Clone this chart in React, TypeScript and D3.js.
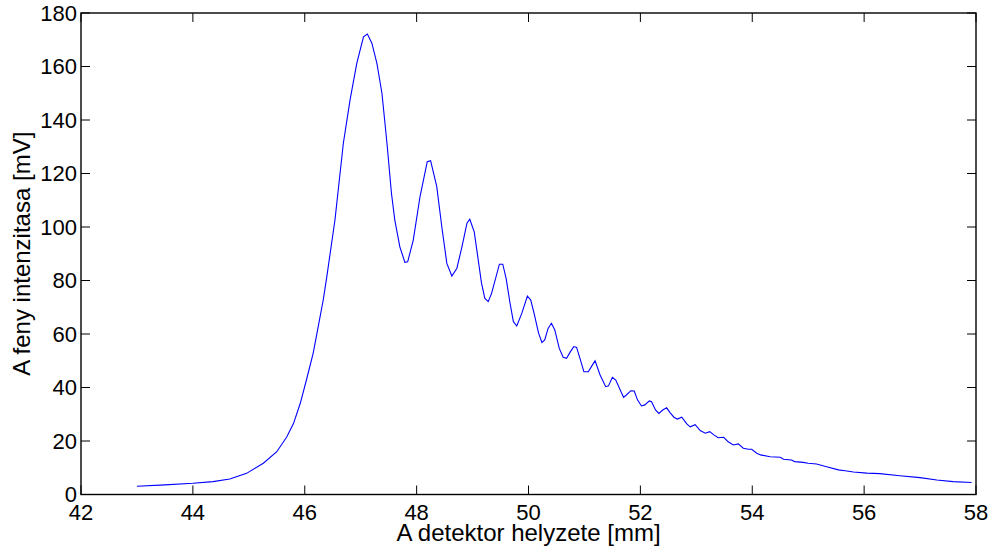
import React from "react";
import * as d3 from "d3";

const xPos: number[] = [
  43.0, 43.5, 44.0, 44.36, 44.66, 44.96, 45.26, 45.5, 45.68, 45.8, 45.92, 46.03, 46.15, 46.24, 46.33,
  46.39, 46.54, 46.69, 46.81, 46.93, 47.05, 47.12, 47.2, 47.29, 47.38, 47.47, 47.55, 47.61, 47.7,
  47.79, 47.84, 47.94, 48.06, 48.19, 48.25, 48.36, 48.45, 48.54, 48.63, 48.72, 48.81, 48.9, 48.95,
  49.03, 49.16, 49.22, 49.28, 49.34, 49.48, 49.54, 49.6, 49.67, 49.73, 49.79, 49.88, 49.98, 50.04,
  50.1, 50.18, 50.24, 50.29, 50.35, 50.41, 50.47, 50.55, 50.62, 50.68, 50.75, 50.81, 50.86, 50.92,
  50.99, 51.07, 51.13, 51.19, 51.28, 51.38, 51.43, 51.5, 51.56, 51.64, 51.7, 51.75, 51.83, 51.89,
  51.95, 52.02, 52.08, 52.16, 52.2, 52.27, 52.33, 52.4, 52.47, 52.53, 52.6, 52.66, 52.74, 52.83,
  52.89, 52.98, 53.07, 53.16, 53.24, 53.32, 53.39, 53.49, 53.57, 53.66, 53.75, 53.84, 53.93, 53.99,
  54.08, 54.15, 54.32, 54.5, 54.56, 54.7, 54.76, 54.91, 55.0, 55.15, 55.33, 55.54, 55.66, 55.81,
  56.05, 56.28, 56.64, 57.0, 57.3, 57.59, 57.92,
];

const intensity: number[] = [
  3.1, 3.6, 4.2, 4.8, 5.8, 7.9, 11.7, 16.0, 21.6, 26.6, 34.1, 42.8, 52.8, 62.7, 72.7,
  80.8, 102.6, 131.3, 147.5, 161.2, 171.1, 172.1, 168.7, 161.2, 150.0, 131.3, 112.6, 102.6, 92.6,
  86.8, 87.0, 95.1, 111.3, 124.4, 124.8, 115.1, 100.1, 86.4, 81.7, 84.6, 92.6, 101.4, 102.9,
  98.2, 79.0, 73.3, 72.1, 75.2, 86.1, 86.1, 80.8, 71.5, 64.6, 63.0, 67.7, 74.2, 72.7,
  67.7, 60.3, 56.8, 57.8, 62.1, 64.0, 61.5, 54.6, 51.3, 50.9, 53.4, 55.3, 55.0, 50.9,
  45.9, 45.9, 48.0, 50.0, 44.7, 40.3, 40.6, 43.8, 42.8, 39.1, 36.3, 37.2, 38.8, 38.7,
  35.3, 33.1, 33.5, 35.0, 34.7, 31.6, 30.3, 31.6, 32.4, 30.6, 28.9, 28.2, 28.9, 26.4,
  25.3, 26.1, 23.9, 22.9, 23.5, 22.2, 21.2, 21.4, 19.7, 18.5, 18.9, 17.3, 16.9, 16.9,
  15.4, 14.8, 14.1, 13.9, 13.2, 12.9, 12.3, 12.0, 11.7, 11.4, 10.4, 9.2, 8.9, 8.4,
  8.0, 7.8, 7.0, 6.3, 5.4, 4.8, 4.5,
];

const xTicks: number[] = [42, 44, 46, 48, 50, 52, 54, 56, 58];
const yTicks: number[] = [0, 20, 40, 60, 80, 100, 120, 140, 160, 180];
const xLabel = "A detektor helyzete [mm]";
const yLabel = "A feny intenzitasa [mV]";

const W = 995;
const H = 548;
const left = 81;
const right = 976;
const top = 13;
const bottom = 494.5;
const font = "'Liberation Sans', Arial, Helvetica, sans-serif";
const fs = 22;
const labelFs = 24;
const tickLen = 9;

export default function App() {
  const x = d3.scaleLinear().domain([42, 58]).range([left, right]);
  const y = d3.scaleLinear().domain([0, 180]).range([bottom, top]);
  const pts: [number, number][] = xPos.map((v, i) => [v, intensity[i]]);
  const line = d3
    .line<[number, number]>()
    .x((d) => x(d[0]))
    .y((d) => y(d[1]));

  return (
    <svg
      width={W}
      height={H}
      style={{ position: "fixed", left: 0, top: 0, background: "#fff" }}
      fontFamily={font}
    >
      <rect x={0} y={0} width={W} height={H} fill="#fff" />
      <path d={line(pts) || ""} fill="none" stroke="#0000ff" strokeWidth={1.1} />
      {xTicks.map((t) => (
        <g key={"x" + t}>
          <line x1={x(t)} x2={x(t)} y1={bottom} y2={bottom - tickLen} stroke="#000" strokeWidth={1} />
          <line x1={x(t)} x2={x(t)} y1={top} y2={top + tickLen} stroke="#000" strokeWidth={1} />
          <text x={x(t)} y={520} textAnchor="middle" fontSize={fs} fill="#000">
            {t}
          </text>
        </g>
      ))}
      {yTicks.map((t) => (
        <g key={"y" + t}>
          <line x1={left} x2={left + tickLen} y1={y(t)} y2={y(t)} stroke="#000" strokeWidth={1} />
          <line x1={right} x2={right - tickLen} y1={y(t)} y2={y(t)} stroke="#000" strokeWidth={1} />
          <text x={left - 4} y={y(t)} dy="0.36em" textAnchor="end" fontSize={fs} fill="#000">
            {t}
          </text>
        </g>
      ))}
      <rect
        x={left}
        y={top}
        width={right - left}
        height={bottom - top}
        fill="none"
        stroke="#000"
        strokeWidth={1.4}
      />
      <text x={(left + right) / 2} y={541} textAnchor="middle" fontSize={labelFs} fill="#000">
        {xLabel}
      </text>
      <text
        transform={`translate(30, ${(top + bottom) / 2}) rotate(-90)`}
        textAnchor="middle"
        fontSize={labelFs}
        fill="#000"
      >
        {yLabel}
      </text>
    </svg>
  );
}
